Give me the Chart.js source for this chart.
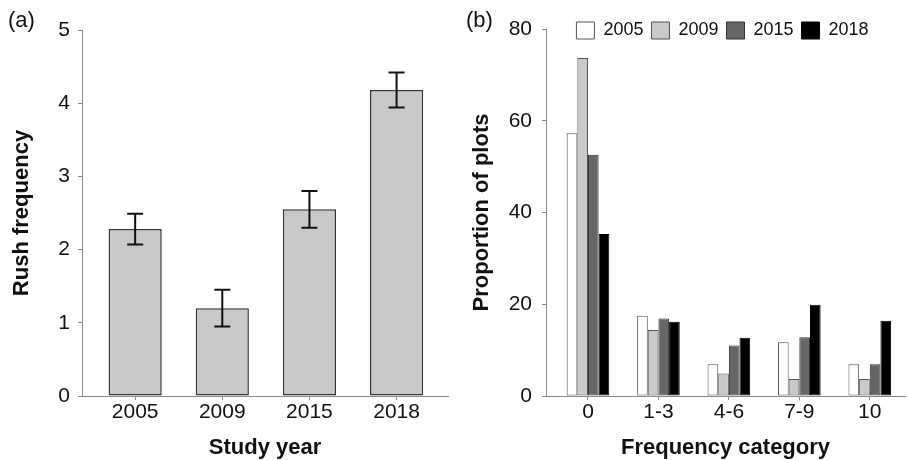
<!DOCTYPE html>
<html>
<head>
<meta charset="utf-8">
<script src="https://cdn.jsdelivr.net/npm/chart.js@4/dist/chart.umd.min.js"></script>
<style>
  body { margin: 0; background: #fff; width: 907px; height: 460px; position: relative; overflow: hidden; font-family: 'Liberation Sans', Arial, sans-serif; }
  .panel { position: absolute; top: 0; height: 460px; }
  #panelA { left: 0; width: 460px; }
  #panelB { left: 460px; width: 447px; }
  .tag { position: absolute; top: 9px; font-size: 22px; line-height: 1; color: #111; }
</style>
</head>
<body>
<div class="panel" id="panelA"><canvas id="chartA" width="460" height="460"></canvas></div>
<div class="panel" id="panelB"><canvas id="chartB" width="447" height="460"></canvas></div>
<div class="tag" style="left:8px">(a)</div>
<div class="tag" style="left:466px">(b)</div>
<script>
// panel (a): mean rush frequency per study year
const years = ['2005', '2009', '2015', '2018'];
const rushMean = [2.28, 1.20, 2.55, 4.18];
const rushErr = [0.21, 0.25, 0.25, 0.24];

// panel (b): proportion of plots per frequency category
const freqCategories = ['0', '1-3', '4-6', '7-9', '10'];
const prop2005 = [57.3, 17.5, 6.9, 11.7, 6.9];
const prop2009 = [73.7, 14.4, 4.9, 3.7, 3.7];
const prop2015 = [52.6, 16.9, 11.0, 12.8, 6.9];
const prop2018 = [35.3, 16.2, 12.7, 19.9, 16.4];

const FONT = "'Liberation Sans', Arial, sans-serif";
const TXT = '#111';
const AXIS = '#8a8a8a';

Chart.defaults.font.family = FONT;
Chart.defaults.color = TXT;

const errorBars = {
    id: 'errorBars',
    afterDatasetsDraw(chart) {
        const meta = chart.getDatasetMeta(0);
        const yScale = chart.scales.y;
        const ctx = chart.ctx;
        ctx.save();
        ctx.strokeStyle = '#111';
        ctx.lineWidth = 2;
        meta.data.forEach((bar, i) => {
            const top = yScale.getPixelForValue(rushMean[i] + rushErr[i]);
            const bot = yScale.getPixelForValue(rushMean[i] - rushErr[i]);
            ctx.beginPath();
            ctx.moveTo(bar.x, top); ctx.lineTo(bar.x, bot);
            ctx.moveTo(bar.x - 8, top); ctx.lineTo(bar.x + 8, top);
            ctx.moveTo(bar.x - 8, bot); ctx.lineTo(bar.x + 8, bot);
            ctx.stroke();
        });
        ctx.restore();
    }
};

// the legend only reserves a thin strip so the plot starts at the top tick;
// grow its clip box back afterwards so the labels are not cut off
const legendOverlap = {
    id: 'legendOverlap',
    afterLayout(chart) {
        const lg = chart.legend;
        if (!lg) return;
        lg.left -= 3;
        lg.right -= 3;
        lg.bottom = lg.top + 40;
        lg.height = 40;
    }
};

function toPoints(values) {
    return values.map((v, i) => ({ x: i, y: v }));
}

function axisX(labels, min, max, title) {
    return {
        type: 'linear',
        min: min,
        max: max,
        offset: false,
        afterBuildTicks: (scale) => { scale.ticks = labels.map((_, i) => ({ value: i })); },
        afterFit: (scale) => { scale.height = 64; },
        grid: { display: true, offset: false, drawOnChartArea: false, drawTicks: true, tickLength: 4, color: AXIS },
        border: { color: AXIS, width: 1 },
        ticks: {
            padding: 0,
            font: { size: 21 },
            color: TXT,
            callback: (v) => labels[v]
        },
        title: {
            display: true,
            text: title,
            font: { size: 22, weight: 'bold', lineHeight: 1 },
            color: TXT,
            padding: { top: 0, bottom: 1 }
        }
    };
}

function axisY(max, step, width, title, tickPad) {
    return {
        min: 0,
        max: max,
        afterFit: (scale) => { scale.width = width; },
        grid: { display: true, drawOnChartArea: false, drawTicks: true, tickLength: 4, color: AXIS },
        border: { color: AXIS, width: 1 },
        ticks: { stepSize: step, padding: tickPad, font: { size: 21 }, color: TXT },
        title: {
            display: true,
            text: title,
            font: { size: 22, weight: 'bold', lineHeight: 1 },
            color: TXT,
            padding: { top: 11, bottom: 0 }
        }
    };
}

new Chart(document.getElementById('chartA'), {
    type: 'bar',
    data: {
        datasets: [{
            label: 'Rush frequency',
            data: toPoints(rushMean),
            backgroundColor: '#c9c9c9',
            borderColor: '#333',
            borderWidth: 1.5,
            borderSkipped: false,
            categoryPercentage: 1,
            barPercentage: 0.61
        }]
    },
    options: {
        responsive: false,
        animation: false,
        layout: { padding: { left: 0, top: 30, right: 12, bottom: 0 } },
        plugins: { legend: { display: false }, tooltip: { enabled: false } },
        scales: {
            x: axisX(years, -0.61, 3.59, 'Study year'),
            y: axisY(5, 1, 82, 'Rush frequency', 8)
        }
    },
    plugins: [errorBars]
});

const seriesB = [
    { label: '2005', data: prop2005, fill: '#ffffff', edge: '#555' },
    { label: '2009', data: prop2009, fill: '#c9c9c9', edge: '#555' },
    { label: '2015', data: prop2015, fill: '#666666', edge: '#333' },
    { label: '2018', data: prop2018, fill: '#000000', edge: '#000' }
];

new Chart(document.getElementById('chartB'), {
    type: 'bar',
    data: {
        datasets: seriesB.map(s => ({
            label: s.label,
            data: toPoints(s.data),
            backgroundColor: s.fill,
            borderColor: s.edge,
            borderWidth: 1,
            borderSkipped: false,
            categoryPercentage: 0.605,
            barPercentage: 1
        }))
    },
    options: {
        responsive: false,
        animation: false,
        layout: { padding: { left: 0, top: 13.5, right: 2, bottom: 0 } },
        plugins: {
            tooltip: { enabled: false },
            legend: {
                position: 'top',
                align: 'center',
                fullSize: false,
                maxHeight: 15.5,
                labels: {
                    boxWidth: 18,
                    boxHeight: 17,
                    padding: 8,
                    font: { size: 18 },
                    color: TXT
                }
            }
        },
        scales: {
            x: axisX(freqCategories, -0.596, 4.5, 'Frequency category'),
            y: axisY(80, 20, 86, 'Proportion of plots', 10)
        }
    },
    plugins: [legendOverlap]
});
</script>
</body>
</html>
